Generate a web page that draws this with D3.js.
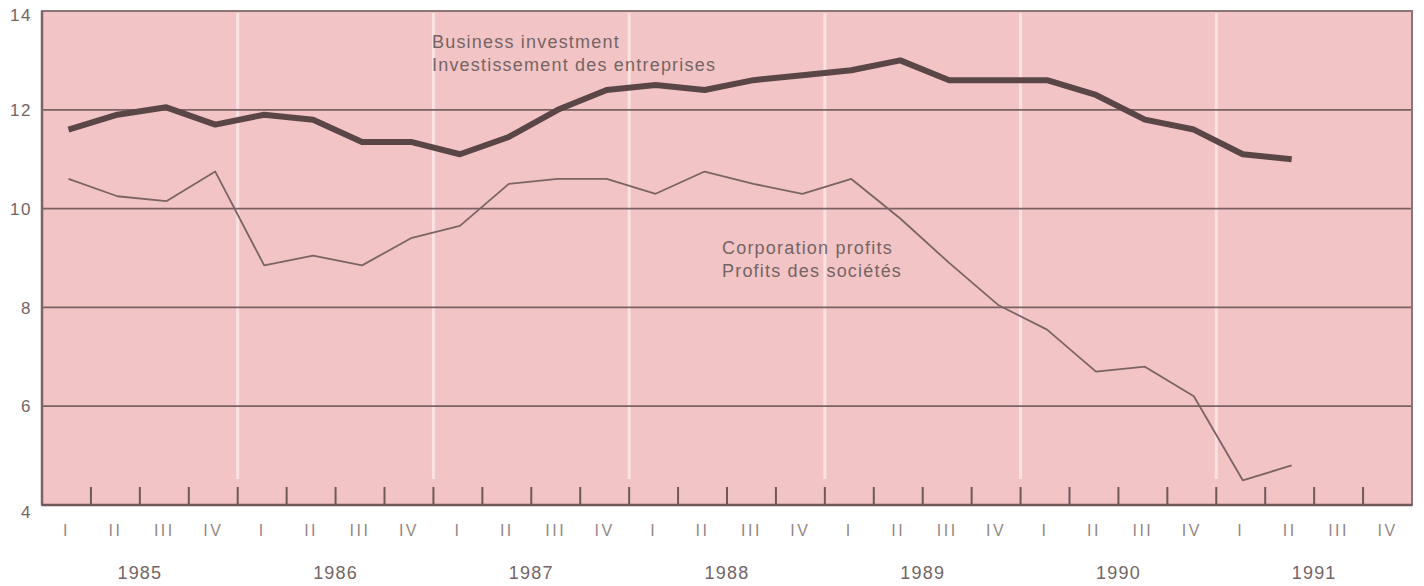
<!DOCTYPE html>
<html>
<head>
<meta charset="utf-8">
<script src="https://cdn.jsdelivr.net/npm/d3@7"></script>
<style>
    body { margin: 0; background: #ffffff; }
    svg { display: block; font-family: "Liberation Sans", Arial, sans-serif; }
</style>
</head>
<body>
<div id="chart"></div>
<script>

// quarters 1985 I .. 1991 IV
var years = ["1985", "1986", "1987", "1988", "1989", "1990", "1991"];
var quarterNames = ["I", "II", "III", "IV"];
var yTicks = [4, 6, 8, 10, 12, 14];

// business investment, % (1985 I .. 1991 II)
var investment = [11.6, 11.9, 12.05, 11.7, 11.9, 11.8, 11.35, 11.35,
                  11.1, 11.45, 12.0, 12.4, 12.5, 12.4, 12.6, 12.7,
                  12.8, 13.0, 12.6, 12.6, 12.6, 12.3, 11.8, 11.6,
                  11.1, 11.0];

// corporation profits, % (1985 I .. 1991 II)
var profits = [10.6, 10.25, 10.15, 10.75, 8.85, 9.05, 8.85, 9.4,
               9.65, 10.5, 10.6, 10.6, 10.3, 10.75, 10.5, 10.3,
               10.6, 9.8, 8.9, 8.05, 7.55, 6.7, 6.8, 6.2,
               4.5, 4.8];

var width = 1424, height = 586;
var plotLeft = 42, plotRight = 1412, plotTop = 11, plotBottom = 505;

var quarters = [];
years.forEach(function(y) {
    quarterNames.forEach(function(q) {
        quarters.push({year: y, q: q, key: y + q});
    });
});

var svg = d3.select("#chart").append("svg")
    .attr("width", width)
    .attr("height", height);

var x = d3.scaleBand()
    .domain(quarters.map(function(d) { return d.key; }))
    .range([plotLeft, plotRight])
    .padding(0);

var xYear = d3.scaleBand()
    .domain(years)
    .range([plotLeft, plotRight]);

var y = d3.scaleLinear()
    .domain([4, 14])
    .range([plotBottom, plotTop]);

var bw = x.bandwidth();

// plot background
svg.append("rect")
    .attr("x", plotLeft)
    .attr("y", plotTop)
    .attr("width", plotRight - plotLeft)
    .attr("height", plotBottom - plotTop)
    .attr("fill", "#f3c4c6");

// white year separators
svg.selectAll("line.yearSep")
    .data(years.slice(1))
    .enter().append("line")
    .attr("class", "yearSep")
    .attr("x1", function(d) { return xYear(d); })
    .attr("x2", function(d) { return xYear(d); })
    .attr("y1", plotTop + 2)
    .attr("y2", plotBottom - 26)
    .attr("stroke", "#fae2e2")
    .attr("stroke-width", 3);

// horizontal grid lines
svg.selectAll("line.grid")
    .data(yTicks.filter(function(d) { return d > 4 && d < 14; }))
    .enter().append("line")
    .attr("class", "grid")
    .attr("x1", plotLeft)
    .attr("x2", plotRight)
    .attr("y1", function(d) { return y(d); })
    .attr("y2", function(d) { return y(d); })
    .attr("stroke", "#7a6262")
    .attr("stroke-width", 1.8);

// quarter ticks inside the bottom of the plot
svg.selectAll("line.qtick")
    .data(quarters.slice(1))
    .enter().append("line")
    .attr("class", "qtick")
    .attr("x1", function(d) { return x(d.key); })
    .attr("x2", function(d) { return x(d.key); })
    .attr("y1", plotBottom)
    .attr("y2", plotBottom - 18)
    .attr("stroke", "#6e5858")
    .attr("stroke-width", 2);

// frame
svg.append("path")
    .attr("d", "M" + plotLeft + "," + plotTop + "H" + plotRight + "V" + plotBottom + "H" + plotLeft + "Z")
    .attr("fill", "none")
    .attr("stroke", "#8a7676")
    .attr("stroke-width", 2);
svg.append("line")
    .attr("x1", plotLeft).attr("x2", plotLeft)
    .attr("y1", plotTop).attr("y2", plotBottom)
    .attr("stroke", "#7d6464")
    .attr("stroke-width", 2.5);
svg.append("line")
    .attr("x1", plotLeft).attr("x2", plotRight)
    .attr("y1", plotBottom).attr("y2", plotBottom)
    .attr("stroke", "#6e5858")
    .attr("stroke-width", 2.5);

// the two series
var line = d3.line()
    .x(function(d, i) { return x(quarters[i].key) + bw / 2 + 2; })
    .y(function(d) { return y(d); });

svg.append("path")
    .datum(profits)
    .attr("d", line)
    .attr("fill", "none")
    .attr("stroke", "#7a6464")
    .attr("stroke-width", 1.8)
    .attr("stroke-linejoin", "round");

svg.append("path")
    .datum(investment)
    .attr("d", line)
    .attr("fill", "none")
    .attr("stroke", "#5a4646")
    .attr("stroke-width", 6)
    .attr("stroke-linejoin", "round");

// y labels
svg.selectAll("text.ylab")
    .data(yTicks)
    .enter().append("text")
    .attr("class", "ylab")
    .attr("x", 32)
    .attr("y", function(d) {
        if (d == 4) return y(d) + 7;
        if (d == 14) return y(d) + 4;
        return y(d);
    })
    .attr("dy", "0.36em")
    .attr("text-anchor", "end")
    .attr("font-size", 17)
    .attr("letter-spacing", 1.5)
    .attr("fill", "#736464")
    .text(function(d) { return d; });

// quarter labels
svg.selectAll("text.qlab")
    .data(quarters)
    .enter().append("text")
    .attr("class", "qlab")
    .attr("x", function(d) { return x(d.key) + bw / 2; })
    .attr("y", 530)
    .attr("dy", "0.36em")
    .attr("text-anchor", "middle")
    .attr("font-size", 16)
    .attr("letter-spacing", 2.5)
    .attr("fill", "#948888")
    .text(function(d) { return d.q; });

// year labels
svg.selectAll("text.ylabYear")
    .data(years)
    .enter().append("text")
    .attr("class", "ylabYear")
    .attr("x", function(d) { return xYear(d) + xYear.bandwidth() / 2; })
    .attr("y", 573)
    .attr("dy", "0.36em")
    .attr("text-anchor", "middle")
    .attr("font-size", 18)
    .attr("letter-spacing", 1.2)
    .attr("fill", "#736666")
    .text(function(d) { return d; });

// series captions
var captions = [
    {lines: ["Business investment", "Investissement des entreprises"], x: 432, y: 42},
    {lines: ["Corporation profits", "Profits des sociétés"], x: 722, y: 248}
];

captions.forEach(function(c) {
    c.lines.forEach(function(t, i) {
        svg.append("text")
            .attr("x", c.x)
            .attr("y", c.y + i * 23)
            .attr("dy", "0.36em")
            .attr("font-size", 18)
            .attr("letter-spacing", 1.2)
            .attr("fill", "#746464")
            .text(t);
    });
});
</script>
</body>
</html>
